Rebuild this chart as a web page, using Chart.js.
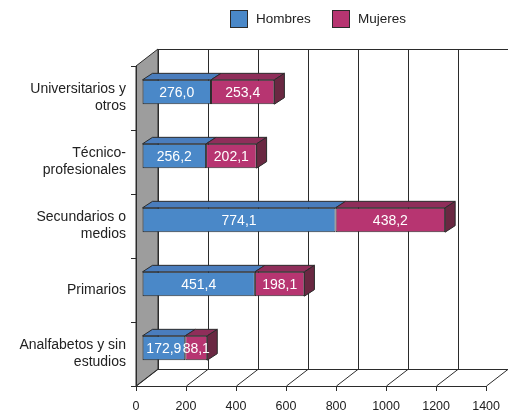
<!DOCTYPE html>
<html>
<head>
<meta charset="utf-8">
<script src="https://cdn.jsdelivr.net/npm/chart.js@4/dist/chart.umd.min.js"></script>
<style>
html, body { margin: 0; padding: 0; background: #fff; }
canvas { display: block; }
</style>
</head>
<body>
<canvas id="myChart" width="508" height="414"></canvas>
<script>
const categorias = [['Universitarios y', 'otros'], ['Técnico-', 'profesionales'], ['Secundarios o', 'medios'], 'Primarios', ['Analfabetos y sin', 'estudios']];
const hombres = [276.0, 256.2, 774.1, 451.4, 172.9];
const mujeres = [253.4, 202.1, 438.2, 198.1, 88.1];
const ticksX = [0, 200, 400, 600, 800, 1000, 1200, 1400];
const series = ['Hombres', 'Mujeres'];

// profundidad de la pared y de las barras
const DX = 22, DY = -17;
const BX = 6, BY = -6;
const PX = 10, PY = -6.5;

const colFrente = ['#4a88c8', '#b73571'];
const colArriba = ['#4a7dbd', '#8f2e5a'];
const colLado = '#6a2842';
const linea = '#2b2b2b';
const fuente = '"Liberation Sans", Arial, sans-serif';

const fondo = {
    id: 'fondo',
    beforeDraw(chart) {
        const { ctx, chartArea: a, scales: { x } } = chart;
        ctx.save();
        ctx.strokeStyle = linea;
        ctx.lineWidth = 1;
        // pared izquierda
        ctx.fillStyle = '#9d9d9d';
        ctx.beginPath();
        ctx.moveTo(a.left, a.top);
        ctx.lineTo(a.left + DX, a.top + DY);
        ctx.lineTo(a.left + DX, a.bottom + DY);
        ctx.lineTo(a.left, a.bottom);
        ctx.closePath();
        ctx.fill();
        ctx.stroke();
        // rejilla del fondo y del suelo
        ctx.beginPath();
        ticksX.forEach(v => {
            const px = Math.round(x.getPixelForValue(v)) + 0.5;
            ctx.moveTo(px + DX, a.top + DY);
            ctx.lineTo(px + DX, a.bottom + DY);
            ctx.moveTo(px, a.bottom);
            ctx.lineTo(px + DX, a.bottom + DY);
        });
        ctx.moveTo(a.left + DX, a.top + DY + 0.5);
        ctx.lineTo(chart.width, a.top + DY + 0.5);
        ctx.moveTo(a.left + DX, a.bottom + DY + 0.5);
        ctx.lineTo(a.right + DX, a.bottom + DY + 0.5);
        ctx.stroke();

        // leyenda
        ctx.font = '13.5px ' + fuente;
        ctx.textBaseline = 'middle';
        const leyX = [230, 332];
        series.forEach((s, i) => {
            ctx.fillStyle = colFrente[i];
            ctx.fillRect(leyX[i] + 0.5, 10.5, 17, 17);
            ctx.strokeRect(leyX[i] + 0.5, 10.5, 17, 17);
            ctx.fillStyle = '#222';
            ctx.fillText(s, leyX[i] + 26, 19.5);
        });
        ctx.restore();
    },
    beforeDatasetsDraw(chart) {
        chart.ctx.save();
        chart.ctx.translate(BX, BY);
    },
    afterDatasetsDraw(chart) {
        const ctx = chart.ctx;
        ctx.strokeStyle = linea;
        ctx.lineWidth = 1;
        chart.data.datasets.forEach((ds, i) => {
            const meta = chart.getDatasetMeta(i);
            meta.data.forEach((el, j) => {
                const p = el.getProps(['x', 'y', 'base', 'height'], true);
                const l = Math.min(p.base, p.x), r = Math.max(p.base, p.x);
                const t = p.y - p.height / 2, b = p.y + p.height / 2;
                // cara superior
                ctx.fillStyle = colArriba[i];
                ctx.beginPath();
                ctx.moveTo(l, t);
                ctx.lineTo(l + PX, t + PY);
                ctx.lineTo(r + PX, t + PY);
                ctx.lineTo(r, t);
                ctx.closePath();
                ctx.fill();
                ctx.stroke();
                // cara lateral
                if (i === chart.data.datasets.length - 1) {
                    ctx.fillStyle = colLado;
                    ctx.beginPath();
                    ctx.moveTo(r, t);
                    ctx.lineTo(r + PX, t + PY);
                    ctx.lineTo(r + PX, b + PY);
                    ctx.lineTo(r, b);
                    ctx.closePath();
                    ctx.fill();
                    ctx.stroke();
                }
                // etiqueta
                ctx.fillStyle = '#fff';
                ctx.font = '14px ' + fuente;
                ctx.textAlign = 'center';
                ctx.textBaseline = 'middle';
                ctx.fillText(ds.data[j].toFixed(1).replace('.', ','), (l + r) / 2, p.y + 1);
            });
        });
        ctx.restore();
    }
};

const ctx = document.getElementById('myChart');
new Chart(ctx, {
    type: 'bar',
    data: {
        labels: categorias,
        datasets: series.map((s, i) => ({
            label: s,
            data: i === 0 ? hombres : mujeres,
            backgroundColor: colFrente[i],
            borderColor: linea,
            borderWidth: 1,
            borderSkipped: false,
            clip: false
        }))
    },
    options: {
        indexAxis: 'y',
        responsive: false,
        animation: false,
        devicePixelRatio: 1,
        barPercentage: 0.38,
        categoryPercentage: 1,
        layout: { padding: { top: 66, right: 20, left: 0, bottom: 0 } },
        plugins: { legend: { display: false }, tooltip: { enabled: false } },
        scales: {
            x: {
                stacked: true,
                min: 0,
                max: 1400,
                afterBuildTicks: scale => { scale.ticks = ticksX.map(v => ({ value: v })); },
                afterFit: scale => { scale.height = 28; },
                grid: { drawOnChartArea: false, tickLength: 5, color: linea },
                border: { color: linea },
                ticks: {
                    color: '#222', padding: 8, maxRotation: 0,
                    font: { family: fuente, size: 12.5 },
                    callback: v => String(v)
                }
            },
            y: {
                stacked: true,
                afterFit: scale => { scale.width = 136; },
                grid: { drawOnChartArea: false, tickLength: 5, offset: true, color: linea },
                border: { color: linea },
                ticks: { color: '#222', padding: 5, font: { family: fuente, size: 14, lineHeight: 1.2 } }
            }
        }
    },
    plugins: [fondo]
});
</script>
</body>
</html>
